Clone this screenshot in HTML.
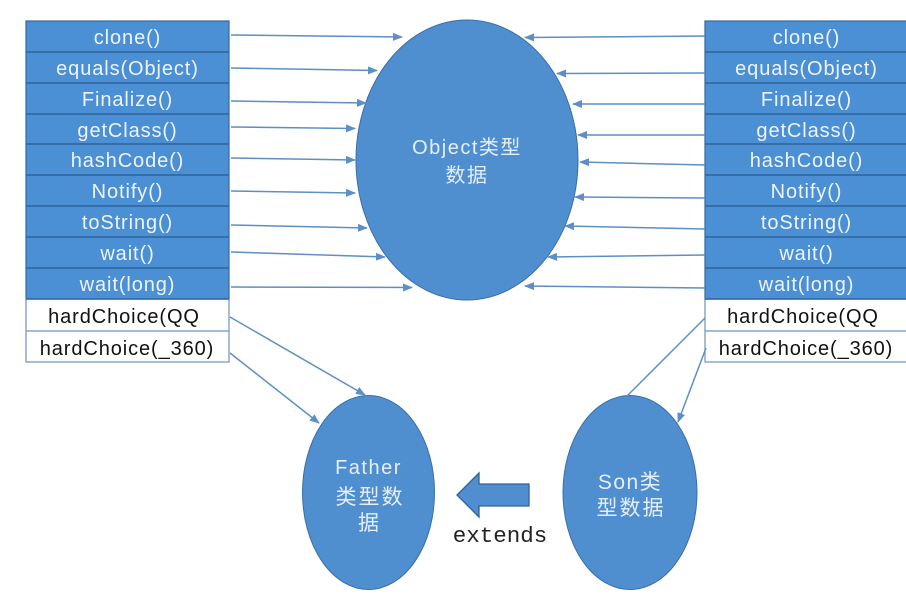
<!DOCTYPE html>
<html><head><meta charset="utf-8"><style>
html,body{margin:0;padding:0;background:#fff;}
svg{display:block;}
.t{font-family:"Liberation Sans","Noto Sans CJK SC",sans-serif;font-size:20px;letter-spacing:0.9px;text-anchor:middle;}
.w{fill:#eef4fb;}
.k{fill:#111;}
.c{font-family:"Liberation Sans","Noto Sans CJK SC",sans-serif;fill:#e6eef8;text-anchor:middle;}
</style></head><body>
<svg width="906" height="601" viewBox="0 0 906 601" xmlns="http://www.w3.org/2000/svg">
<defs>
<marker id="a" markerUnits="userSpaceOnUse" markerWidth="10" markerHeight="8" refX="9" refY="4" orient="auto">
<path d="M0,0 L10,4 L0,8 z" fill="#5d8fc6"/>
</marker>
</defs>
<rect width="906" height="601" fill="#fff"/>

<!-- Left table -->
<g>
<rect x="26" y="21" width="203" height="279" fill="#4b8fd4" stroke="#3469a0" stroke-width="1.2"/>
<rect x="26" y="299" width="203" height="63" fill="#fff" stroke="#6f93bc" stroke-width="1.2"/>
<g stroke="#2f6399" stroke-width="1.5">
<line x1="26" y1="52" x2="229" y2="52"/><line x1="26" y1="83" x2="229" y2="83"/>
<line x1="26" y1="114" x2="229" y2="114"/><line x1="26" y1="144" x2="229" y2="144"/>
<line x1="26" y1="175" x2="229" y2="175"/><line x1="26" y1="206" x2="229" y2="206"/>
<line x1="26" y1="237" x2="229" y2="237"/><line x1="26" y1="268" x2="229" y2="268"/>
<line x1="26" y1="299" x2="229" y2="299"/>
</g>
<line x1="26" y1="331" x2="229" y2="331" stroke="#6f93bc" stroke-width="1.2"/>
<text class="t w" x="127.5" y="44">clone()</text>
<text class="t w" x="127.5" y="75">equals(Object)</text>
<text class="t w" x="127.5" y="106">Finalize()</text>
<text class="t w" x="127.5" y="137">getClass()</text>
<text class="t w" x="127.5" y="167">hashCode()</text>
<text class="t w" x="127.5" y="198">Notify()</text>
<text class="t w" x="127.5" y="229">toString()</text>
<text class="t w" x="127.5" y="260">wait()</text>
<text class="t w" x="127.5" y="291">wait(long)</text>
<text class="t k" x="124" y="323">hardChoice(QQ</text>
<text class="t k" x="127" y="355">hardChoice(_360)</text>
</g>

<!-- Right table -->
<g>
<rect x="705" y="21" width="203" height="279" fill="#4b8fd4" stroke="#3469a0" stroke-width="1.2"/>
<rect x="705" y="299" width="203" height="63" fill="#fff" stroke="#6f93bc" stroke-width="1.2"/>
<g stroke="#2f6399" stroke-width="1.5">
<line x1="705" y1="52" x2="906" y2="52"/><line x1="705" y1="83" x2="906" y2="83"/>
<line x1="705" y1="114" x2="906" y2="114"/><line x1="705" y1="144" x2="906" y2="144"/>
<line x1="705" y1="175" x2="906" y2="175"/><line x1="705" y1="206" x2="906" y2="206"/>
<line x1="705" y1="237" x2="906" y2="237"/><line x1="705" y1="268" x2="906" y2="268"/>
<line x1="705" y1="299" x2="906" y2="299"/>
</g>
<line x1="705" y1="331" x2="906" y2="331" stroke="#6f93bc" stroke-width="1.2"/>
<text class="t w" x="806.5" y="44">clone()</text>
<text class="t w" x="806.5" y="75">equals(Object)</text>
<text class="t w" x="806.5" y="106">Finalize()</text>
<text class="t w" x="806.5" y="137">getClass()</text>
<text class="t w" x="806.5" y="167">hashCode()</text>
<text class="t w" x="806.5" y="198">Notify()</text>
<text class="t w" x="806.5" y="229">toString()</text>
<text class="t w" x="806.5" y="260">wait()</text>
<text class="t w" x="806.5" y="291">wait(long)</text>
<text class="t k" x="803" y="323">hardChoice(QQ</text>
<text class="t k" x="806" y="355">hardChoice(_360)</text>
</g>

<!-- Object ellipse -->
<ellipse cx="467" cy="160" rx="111" ry="140" fill="#4f8fd0" stroke="#3a6ea6" stroke-width="1"/>
<text class="c" x="467" y="154" font-size="20" letter-spacing="1.5">Object类型</text>
<text class="c" x="467" y="182" font-size="20" letter-spacing="1.5">数据</text>

<!-- Father ellipse -->
<ellipse cx="368.5" cy="492.5" rx="66" ry="97" fill="#4f8fd0" stroke="#3a6ea6" stroke-width="1"/>
<text class="c" x="368.5" y="474" font-size="20" letter-spacing="1.5">Father</text>
<text class="c" x="370" y="504" font-size="21" letter-spacing="2">类型数</text>
<text class="c" x="368.5" y="530" font-size="21">据</text>

<!-- Son ellipse -->
<ellipse cx="630" cy="492.5" rx="67" ry="97" fill="#4f8fd0" stroke="#3a6ea6" stroke-width="1"/>
<text class="c" x="630" y="489" font-size="21" letter-spacing="1.5">Son类</text>
<text class="c" x="631" y="515" font-size="21" letter-spacing="2">型数据</text>

<!-- extends block arrow -->
<path d="M457,495 L479,473 L479,484 L529,484 L529,506 L479,506 L479,517 Z" fill="#4f8fd0" stroke="#2f6399" stroke-width="1.3" stroke-linejoin="miter"/>
<text x="500" y="542" font-family="'Liberation Mono',monospace" font-size="22.5" fill="#222" text-anchor="middle">extends</text>

<!-- connectors -->
<g stroke="#5d8fc6" stroke-width="1.5" fill="none">
<line x1="231" y1="35" x2="402" y2="37" marker-end="url(#a)"/>
<line x1="231" y1="68" x2="377" y2="70.5" marker-end="url(#a)"/>
<line x1="231" y1="101" x2="366" y2="103" marker-end="url(#a)"/>
<line x1="231" y1="127" x2="355" y2="128.5" marker-end="url(#a)"/>
<line x1="231" y1="158" x2="355" y2="160" marker-end="url(#a)"/>
<line x1="231" y1="191" x2="355" y2="193" marker-end="url(#a)"/>
<line x1="231" y1="225" x2="367" y2="228" marker-end="url(#a)"/>
<line x1="231" y1="252" x2="385" y2="257" marker-end="url(#a)"/>
<line x1="231" y1="287" x2="412" y2="287.5" marker-end="url(#a)"/>

<line x1="705" y1="36" x2="525" y2="37.5" marker-end="url(#a)"/>
<line x1="705" y1="73" x2="557" y2="73.5" marker-end="url(#a)"/>
<line x1="705" y1="104" x2="573" y2="104" marker-end="url(#a)"/>
<line x1="705" y1="135" x2="578" y2="135" marker-end="url(#a)"/>
<line x1="705" y1="165" x2="580" y2="162" marker-end="url(#a)"/>
<line x1="705" y1="198" x2="575" y2="197" marker-end="url(#a)"/>
<line x1="705" y1="229" x2="565" y2="226" marker-end="url(#a)"/>
<line x1="705" y1="255" x2="548" y2="257" marker-end="url(#a)"/>
<line x1="705" y1="288" x2="525" y2="286" marker-end="url(#a)"/>

<line x1="230" y1="317" x2="365" y2="395" marker-end="url(#a)"/>
<line x1="230" y1="353" x2="319" y2="423" marker-end="url(#a)"/>
<line x1="705" y1="318" x2="626" y2="397"/>
<line x1="706" y1="348" x2="678" y2="422" marker-end="url(#a)"/>
</g>
</svg>
</body></html>
